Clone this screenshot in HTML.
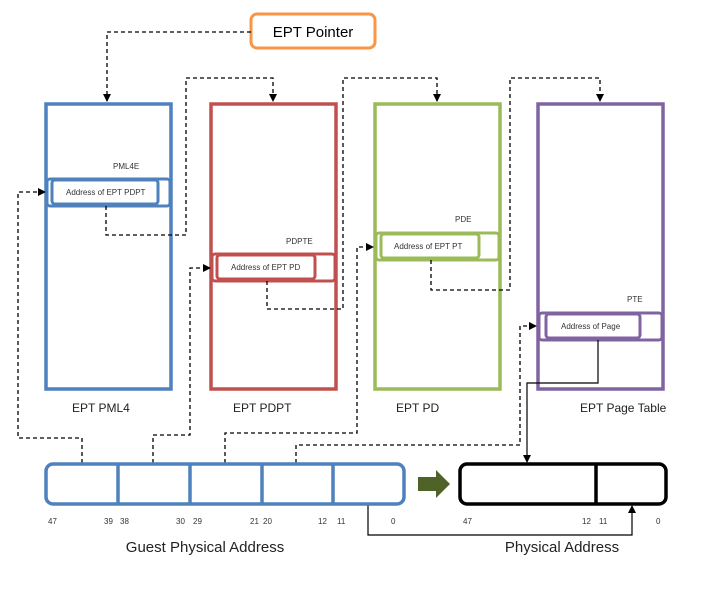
<!DOCTYPE html>
<html><head><style>body{margin:0;background:#fff}svg text{font-family:"Liberation Sans",sans-serif}</style></head><body>
<svg width="704" height="587" viewBox="0 0 704 587" xmlns="http://www.w3.org/2000/svg">
<defs><marker id="a" markerWidth="8" markerHeight="8" refX="7" refY="4" orient="auto" markerUnits="userSpaceOnUse"><path d="M0,0L8,4L0,8z" fill="#000"/></marker></defs>
<rect x="251" y="14" width="124" height="34" rx="6" fill="#fff" stroke="#f79646" stroke-width="3"/>
<text x="313" y="37" font-size="15" text-anchor="middle">EPT Pointer</text>
<g fill="none" stroke-width="3.5">
<rect x="46" y="104" width="125" height="285" stroke="#4f81bd"/>
<rect x="211" y="104" width="125" height="285" stroke="#c0504d"/>
<rect x="375" y="104" width="125" height="285" stroke="#9bbb59"/>
<rect x="538" y="104" width="125" height="285" stroke="#8064a2"/>
<g stroke-width="3">
<rect x="47" y="179" width="123" height="27" rx="3" stroke="#4f81bd"/><rect x="52" y="180" width="106" height="24" rx="3" stroke="#4f81bd"/>
<rect x="212" y="254" width="123" height="27" rx="3" stroke="#c0504d"/><rect x="217" y="255" width="98" height="24" rx="3" stroke="#c0504d"/>
<rect x="376" y="233" width="123" height="27" rx="3" stroke="#9bbb59"/><rect x="381" y="234" width="98" height="24" rx="3" stroke="#9bbb59"/>
<rect x="539" y="313" width="123" height="27" rx="3" stroke="#8064a2"/><rect x="546" y="314" width="94" height="24" rx="3" stroke="#8064a2"/>
</g></g>
<g font-size="8" fill="#333">
<text x="113" y="169">PML4E</text><text x="66" y="195">Address of EPT PDPT</text>
<text x="286" y="244">PDPTE</text><text x="231" y="270">Address of EPT PD</text>
<text x="455" y="222">PDE</text><text x="394" y="249">Address of EPT PT</text>
<text x="627" y="302">PTE</text><text x="561" y="329">Address of Page</text>
</g>
<g font-size="12" fill="#222">
<text x="72" y="412">EPT PML4</text><text x="233" y="412">EPT PDPT</text><text x="396" y="412">EPT PD</text><text x="580" y="412">EPT Page Table</text>
</g>
<g fill="none" stroke="#000" stroke-width="1.3" stroke-dasharray="4,3">
<path d="M251,32H107V101" marker-end="url(#a)"/>
<path d="M106,206V235H186V78H273V101" marker-end="url(#a)"/>
<path d="M267,281V309H343V78H437V101" marker-end="url(#a)"/>
<path d="M431,260V290H510V78H600V101" marker-end="url(#a)"/>
<path d="M82,463V438H18V192H45" marker-end="url(#a)"/>
<path d="M153,463V435H190V268H210" marker-end="url(#a)"/>
<path d="M225,463V433H357V247H373" marker-end="url(#a)"/>
<path d="M296,463V445H520V326H536" marker-end="url(#a)"/>
</g>
<g fill="none" stroke="#000" stroke-width="1.2">
<path d="M598,340V383H527V462" marker-end="url(#a)"/>
<path d="M368,505V535H632V506" marker-end="url(#a)"/>
</g>
<g fill="none" stroke="#4f81bd" stroke-width="3.5">
<rect x="46" y="464" width="358" height="40" rx="7"/>
<path d="M118,464V504M190,464V504M262,464V504M333,464V504"/>
</g>
<g fill="none" stroke="#000" stroke-width="3.5">
<rect x="460" y="464" width="206" height="40" rx="7"/>
<path d="M596,464V504"/>
</g>
<path d="M418,477H436V470L450,484L436,498V491H418z" fill="#4f6228"/>
<g font-size="8" fill="#333">
<text x="48" y="524">47</text><text x="104" y="524">39</text><text x="120" y="524">38</text><text x="176" y="524">30</text><text x="193" y="524">29</text><text x="250" y="524">21</text><text x="263" y="524">20</text><text x="318" y="524">12</text><text x="337" y="524">11</text><text x="391" y="524">0</text>
<text x="463" y="524">47</text><text x="582" y="524">12</text><text x="599" y="524">11</text><text x="656" y="524">0</text>
</g>
<g font-size="15" fill="#222">
<text x="205" y="552" text-anchor="middle">Guest Physical Address</text>
<text x="562" y="552" text-anchor="middle">Physical Address</text>
</g>
</svg>
</body></html>
